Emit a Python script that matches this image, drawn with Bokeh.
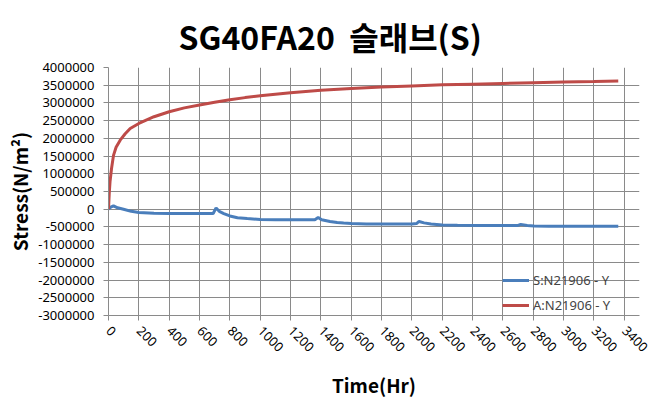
from bokeh.plotting import figure
from bokeh.models import FixedTicker, Legend, LegendItem, Range1d
from bokeh.embed import file_html
from bokeh.resources import INLINE

# ---- data ----
s_time = [0, 15, 33, 60, 99, 150, 200, 300, 400, 500, 600, 690, 709, 730, 760, 800, 850, 914,
          1000, 1100, 1200, 1300, 1360, 1382, 1405, 1460, 1507, 1550, 1600, 1700, 1800, 1900,
          2000, 2030, 2047, 2080, 2126, 2200, 2300, 2453, 2600, 2695, 2717, 2760, 2805, 2900,
          3000, 3200, 3360]
s_val = [0, 60000, 95000, 40000, 0, -60000, -93000, -115000, -122000, -122000, -122000, -122000,
         37000, -60000, -122000, -190000, -240000, -263000, -291000, -298000, -300000, -300000,
         -300000, -234000, -300000, -345000, -376000, -392000, -404000, -415000, -420000, -420000,
         -420000, -405000, -345000, -385000, -420000, -446000, -455000, -460000, -462000, -462000,
         -428000, -458000, -475000, -478000, -478000, -478000, -478000]

a_time = [0, 5, 10, 20, 33, 50, 77, 110, 143, 200, 300, 400, 500, 600, 700, 800, 900, 1000,
          1200, 1400, 1600, 1800, 2000, 2200, 2400, 2600, 2800, 3000, 3200, 3360]
a_val = [0, 450000, 770000, 1150000, 1520000, 1750000, 1950000, 2130000, 2280000, 2420000,
         2610000, 2750000, 2860000, 2940000, 3020000, 3090000, 3150000, 3200000, 3290000,
         3360000, 3410000, 3450000, 3480000, 3510000, 3530000, 3550000, 3570000, 3590000,
         3605000, 3620000]

x_ticks = list(range(0, 3401, 200))
y_ticks = list(range(-3000000, 4000001, 500000))
x_labels = [str(t) for t in x_ticks]
y_labels = [str(t) for t in y_ticks]

series_names = ["S:N21906 - Y", "A:N21906 - Y"]
title_text = "SG40FA20 \u00a0슬래브(S)"
x_title = "Time(Hr)"
y_title = "Stress(N/m²)"

# ---- figure ----
p = figure(width=667, height=400, output_backend="svg", toolbar_location=None,
           x_range=Range1d(0, 3500), y_range=Range1d(-3000000, 4000000),
           min_border_left=108, min_border_right=28, min_border_top=67, min_border_bottom=85)
p.background_fill_color = "white"
p.border_fill_color = "white"
p.outline_line_color = None

p.title.text = title_text
p.title.text_font = "Noto Sans CJK KR"
p.title.text_font_style = "bold"
p.title.text_font_size = "32px"
p.title.text_color = "black"
p.title.align = "left"
p.title.offset = 70
p.title.standoff = 17

grid_color = "#8a8a8a"
p.xgrid.ticker = FixedTicker(ticks=x_ticks)
p.ygrid.ticker = FixedTicker(ticks=y_ticks)
p.xgrid.grid_line_color = grid_color
p.ygrid.grid_line_color = grid_color

for ax, ticks, labels in ((p.xaxis[0], x_ticks, x_labels), (p.yaxis[0], y_ticks, y_labels)):
    ax.ticker = FixedTicker(ticks=ticks)
    ax.major_label_overrides = dict(zip(ticks, labels))
    ax.axis_line_color = grid_color
    ax.major_tick_line_color = grid_color
    ax.major_tick_out = 5
    ax.major_tick_in = 0
    ax.minor_tick_line_color = None
    ax.major_label_text_font = "Noto Sans"
    ax.major_label_text_font_size = "13px"
    ax.major_label_text_color = "black"
    ax.axis_label_text_font = "Noto Sans CJK KR"
    ax.axis_label_text_font_style = "bold"
    ax.axis_label_text_font_size = "19px"
    ax.axis_label_text_color = "black"

p.xaxis[0].axis_label = x_title
p.yaxis[0].axis_label = y_title
p.xaxis[0].major_label_orientation = -0.785398
p.xaxis[0].major_label_standoff = 8
p.xaxis[0].axis_label_standoff = 12
p.yaxis[0].major_label_standoff = 9
p.yaxis[0].axis_label_standoff = 2

r_s = p.line(s_time, s_val, line_color="#4A7EBB", line_width=3)
r_a = p.line(a_time, a_val, line_color="#BE4B48", line_width=3)

legend = Legend(items=[LegendItem(label=series_names[0], renderers=[r_s]),
                       LegendItem(label=series_names[1], renderers=[r_a])],
                location=(394, 0), padding=0, margin=0, spacing=5,
                glyph_width=27, glyph_height=20, label_standoff=4,
                label_text_font="Noto Sans", label_text_font_size="13px",
                background_fill_alpha=0, border_line_color=None)
p.add_layout(legend)

open("out.html", "w").write(file_html(p, INLINE))
